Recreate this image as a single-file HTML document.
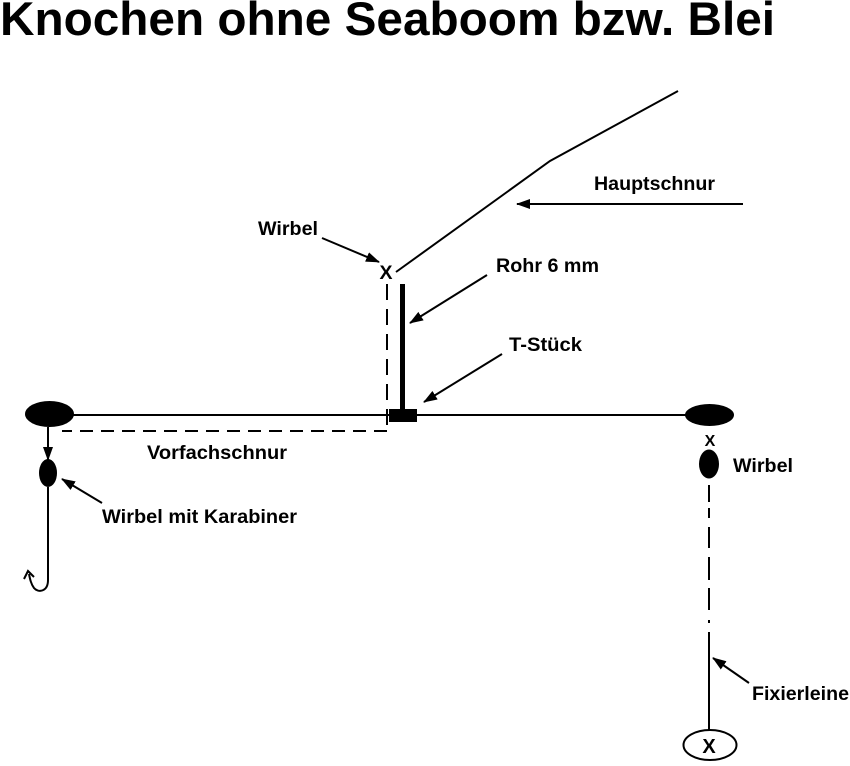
<!DOCTYPE html>
<html><head><meta charset="utf-8"><style>
html,body{margin:0;padding:0;background:#fff;}
svg{display:block;}
text{font-family:"Liberation Sans",Arial,sans-serif;font-weight:bold;fill:#000;}
</style></head><body>
<svg width="850" height="766" viewBox="0 0 850 766" xmlns="http://www.w3.org/2000/svg">
<defs>
<marker id="ah" markerWidth="14" markerHeight="10" refX="13" refY="5" orient="auto" markerUnits="userSpaceOnUse">
<path d="M0,0 L14,5 L0,10 Z" fill="#000"/>
</marker>
</defs>
<text x="0" y="35" font-size="47" textLength="775" lengthAdjust="spacingAndGlyphs">Knochen ohne Seaboom bzw. Blei</text>

<!-- main line -->
<polyline points="396,272 550,161 678,91" fill="none" stroke="#000" stroke-width="2"/>
<line x1="743" y1="204" x2="517" y2="204" stroke="#000" stroke-width="2" marker-end="url(#ah)"/>
<text x="594" y="190" font-size="19.5" textLength="121" lengthAdjust="spacingAndGlyphs">Hauptschnur</text>

<!-- Wirbel top -->
<text x="258" y="235" font-size="19.5" textLength="60" lengthAdjust="spacingAndGlyphs">Wirbel</text>
<line x1="322" y1="238" x2="379" y2="262" stroke="#000" stroke-width="2" marker-end="url(#ah)"/>
<text x="386" y="279" font-size="19.5" text-anchor="middle">X</text>

<!-- Rohr -->
<rect x="400" y="284" width="5" height="126" fill="#000"/>
<rect x="389" y="409" width="28" height="13" fill="#000"/>
<text x="496" y="272" font-size="19.5" textLength="103" lengthAdjust="spacingAndGlyphs">Rohr 6 mm</text>
<line x1="487" y1="275" x2="410" y2="323" stroke="#000" stroke-width="2" marker-end="url(#ah)"/>
<text x="509" y="351" font-size="19.5" textLength="73" lengthAdjust="spacingAndGlyphs">T-Stück</text>
<line x1="502" y1="354" x2="424" y2="402" stroke="#000" stroke-width="2" marker-end="url(#ah)"/>

<!-- horizontal line -->
<line x1="70" y1="415" x2="690" y2="415" stroke="#000" stroke-width="2"/>
<!-- dashed Vorfach -->
<line x1="387" y1="284" x2="387" y2="431" stroke="#000" stroke-width="2" stroke-dasharray="16,9"/>
<line x1="387" y1="431" x2="62" y2="431" stroke="#000" stroke-width="2" stroke-dasharray="13,8"/>
<text x="147" y="459" font-size="19.5" textLength="140" lengthAdjust="spacingAndGlyphs">Vorfachschnur</text>

<!-- left ellipse and hook -->
<ellipse cx="49.5" cy="414" rx="24.5" ry="13" fill="#000"/>
<line x1="48" y1="427" x2="48" y2="460" stroke="#000" stroke-width="2" marker-end="url(#ah)"/>
<ellipse cx="48" cy="473" rx="9" ry="14" fill="#000"/>
<path d="M48,487 L48,580 C48,592 38,593 34,588 C31,584 30,579 29,574" fill="none" stroke="#000" stroke-width="2"/>
<path d="M24,579 L28,571 L34,577" fill="none" stroke="#000" stroke-width="2"/>
<line x1="102" y1="503" x2="62" y2="479" stroke="#000" stroke-width="2" marker-end="url(#ah)"/>
<text x="102" y="523" font-size="19.5" textLength="195" lengthAdjust="spacingAndGlyphs">Wirbel mit Karabiner</text>

<!-- right side -->
<ellipse cx="709.5" cy="415" rx="24.5" ry="11" fill="#000"/>
<text x="710" y="446" font-size="16" text-anchor="middle">X</text>
<ellipse cx="709" cy="464" rx="10" ry="14.5" fill="#000"/>
<text x="733" y="472" font-size="19.5" textLength="60" lengthAdjust="spacingAndGlyphs">Wirbel</text>
<g stroke="#000" stroke-width="2">
<line x1="709" y1="485" x2="709" y2="502"/>
<line x1="709" y1="508" x2="709" y2="518"/>
<line x1="709" y1="527" x2="709" y2="548"/>
<line x1="709" y1="557" x2="709" y2="580"/>
<line x1="709" y1="588" x2="709" y2="610"/>
<line x1="709" y1="620" x2="709" y2="623"/>
<line x1="709" y1="632" x2="709" y2="730"/>
</g>
<line x1="749" y1="683" x2="713" y2="658" stroke="#000" stroke-width="2" marker-end="url(#ah)"/>
<text x="752" y="700" font-size="19.5" textLength="97" lengthAdjust="spacingAndGlyphs">Fixierleine</text>
<ellipse cx="710" cy="745" rx="26.5" ry="15" fill="#fff" stroke="#000" stroke-width="2"/>
<text x="709" y="753" font-size="20" text-anchor="middle">X</text>
</svg>
</body></html>
